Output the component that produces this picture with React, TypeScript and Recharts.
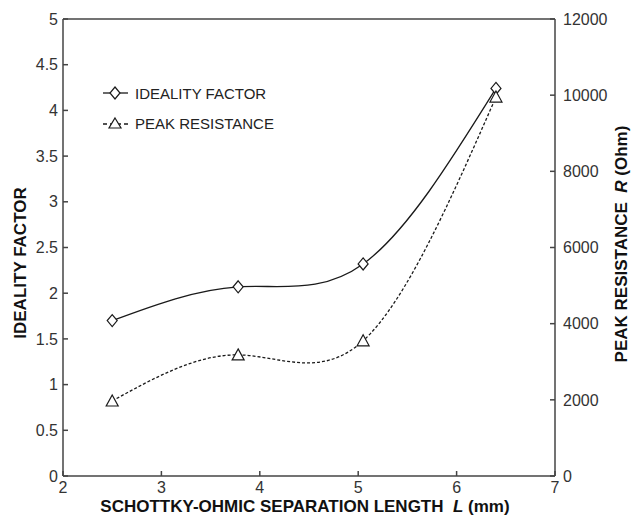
import { LineChart, Line, XAxis, YAxis, ReferenceLine } from 'recharts';

const separation = [2.5, 3.78, 5.05, 6.4];
const idealityFactor = [1.7, 2.07, 2.32, 4.24];
const peakResistance = [1970, 3180, 3550, 9950];

const xTicks = [2, 3, 4, 5, 6, 7];
const leftTicks = [0, 0.5, 1, 1.5, 2, 2.5, 3, 3.5, 4, 4.5, 5];
const rightTicks = [0, 2000, 4000, 6000, 8000, 10000, 12000];

const data = separation.map((x, i) => ({
  x,
  ideality: idealityFactor[i],
  resistance: peakResistance[i],
}));

const FONT = 'Arial, "Liberation Sans", sans-serif';
const AXIS = '#444';
const INK = '#1a1a1a';

const Diamond = (props: any) => {
  const { cx, cy } = props;
  if (cx == null || cy == null) return null;
  return (
    <path
      d={`M${cx},${cy - 6} L${cx + 5},${cy} L${cx},${cy + 6} L${cx - 5},${cy} Z`}
      fill="#fff"
      stroke={INK}
      strokeWidth={1.2}
    />
  );
};

const Triangle = (props: any) => {
  const { cx, cy } = props;
  if (cx == null || cy == null) return null;
  return (
    <path
      d={`M${cx},${cy - 6} L${cx + 6},${cy + 5} L${cx - 6},${cy + 5} Z`}
      fill="#fff"
      stroke={INK}
      strokeWidth={1.2}
    />
  );
};

const tickStyle = { fontSize: 16, fill: '#333', fontFamily: FONT };
const labelStyle: React.CSSProperties = {
  position: 'absolute',
  fontFamily: FONT,
  fontWeight: 'bold',
  fontSize: 17,
  color: '#111',
  whiteSpace: 'nowrap',
};

export default function App() {
  return (
    <div style={{ position: 'relative', width: 640, height: 523, background: '#fff' }}>
      <style>{'body{margin:0}'}</style>
      <LineChart
        width={640}
        height={523}
        data={data}
        margin={{ top: 19, right: 25, left: 3, bottom: 17 }}
      >
        <XAxis
          dataKey="x"
          type="number"
          domain={[2, 7]}
          ticks={xTicks}
          height={30}
          tick={tickStyle}
          tickSize={-5}
          tickMargin={11}
          stroke={AXIS}
          strokeWidth={1.5}
        />
        <YAxis
          yAxisId="left"
          domain={[0, 5]}
          ticks={leftTicks}
          width={60}
          tick={tickStyle}
          tickSize={-5}
          tickMargin={10}
          stroke={AXIS}
          strokeWidth={1.5}
          interval={0}
        />
        <YAxis
          yAxisId="right"
          orientation="right"
          domain={[0, 12000]}
          ticks={rightTicks}
          width={60}
          tick={tickStyle}
          tickSize={-5}
          tickMargin={13}
          stroke={AXIS}
          strokeWidth={1.5}
          interval={0}
        />
        <ReferenceLine yAxisId="left" y={5} stroke={AXIS} strokeWidth={1.5} />
        <Line
          yAxisId="left"
          type="natural"
          dataKey="ideality"
          stroke={INK}
          strokeWidth={1.3}
          dot={<Diamond />}
          isAnimationActive={false}
        />
        <Line
          yAxisId="right"
          type="natural"
          dataKey="resistance"
          stroke={INK}
          strokeWidth={1.3}
          strokeDasharray="3 2"
          dot={<Triangle />}
          isAnimationActive={false}
        />
      </LineChart>

      <div style={{ position: 'absolute', left: 100, top: 82, fontFamily: FONT, fontSize: 15, color: '#222' }}>
        <div style={{ display: 'flex', alignItems: 'center', height: 22 }}>
          <svg width={32} height={16}>
            <line x1={3} y1={8} x2={28} y2={8} stroke={INK} strokeWidth={1.3} />
            <path d="M15,2 L20,8 L15,14 L10,8 Z" fill="#fff" stroke={INK} strokeWidth={1.2} />
          </svg>
          <span style={{ marginLeft: 3 }}>IDEALITY FACTOR</span>
        </div>
        <div style={{ display: 'flex', alignItems: 'center', height: 22, marginTop: 8 }}>
          <svg width={32} height={16}>
            <line x1={3} y1={9} x2={28} y2={9} stroke={INK} strokeWidth={1.3} strokeDasharray="4 3" />
            <path d="M15,3 L21,13 L9,13 Z" fill="#fff" stroke={INK} strokeWidth={1.2} />
          </svg>
          <span style={{ marginLeft: 3 }}>PEAK RESISTANCE</span>
        </div>
      </div>

      <div style={{ ...labelStyle, left: 21, top: 263, transform: 'translate(-50%, -50%) rotate(-90deg)' }}>
        IDEALITY FACTOR
      </div>
      <div style={{ ...labelStyle, left: 622, top: 244, transform: 'translate(-50%, -50%) rotate(-90deg)' }}>
        PEAK RESISTANCE&nbsp;&nbsp;<i>R</i> (Ohm)
      </div>
      <div style={{ ...labelStyle, left: 305, top: 507, transform: 'translate(-50%, -50%)' }}>
        SCHOTTKY-OHMIC SEPARATION LENGTH&nbsp;&nbsp;<i>L</i> (mm)
      </div>
    </div>
  );
}
